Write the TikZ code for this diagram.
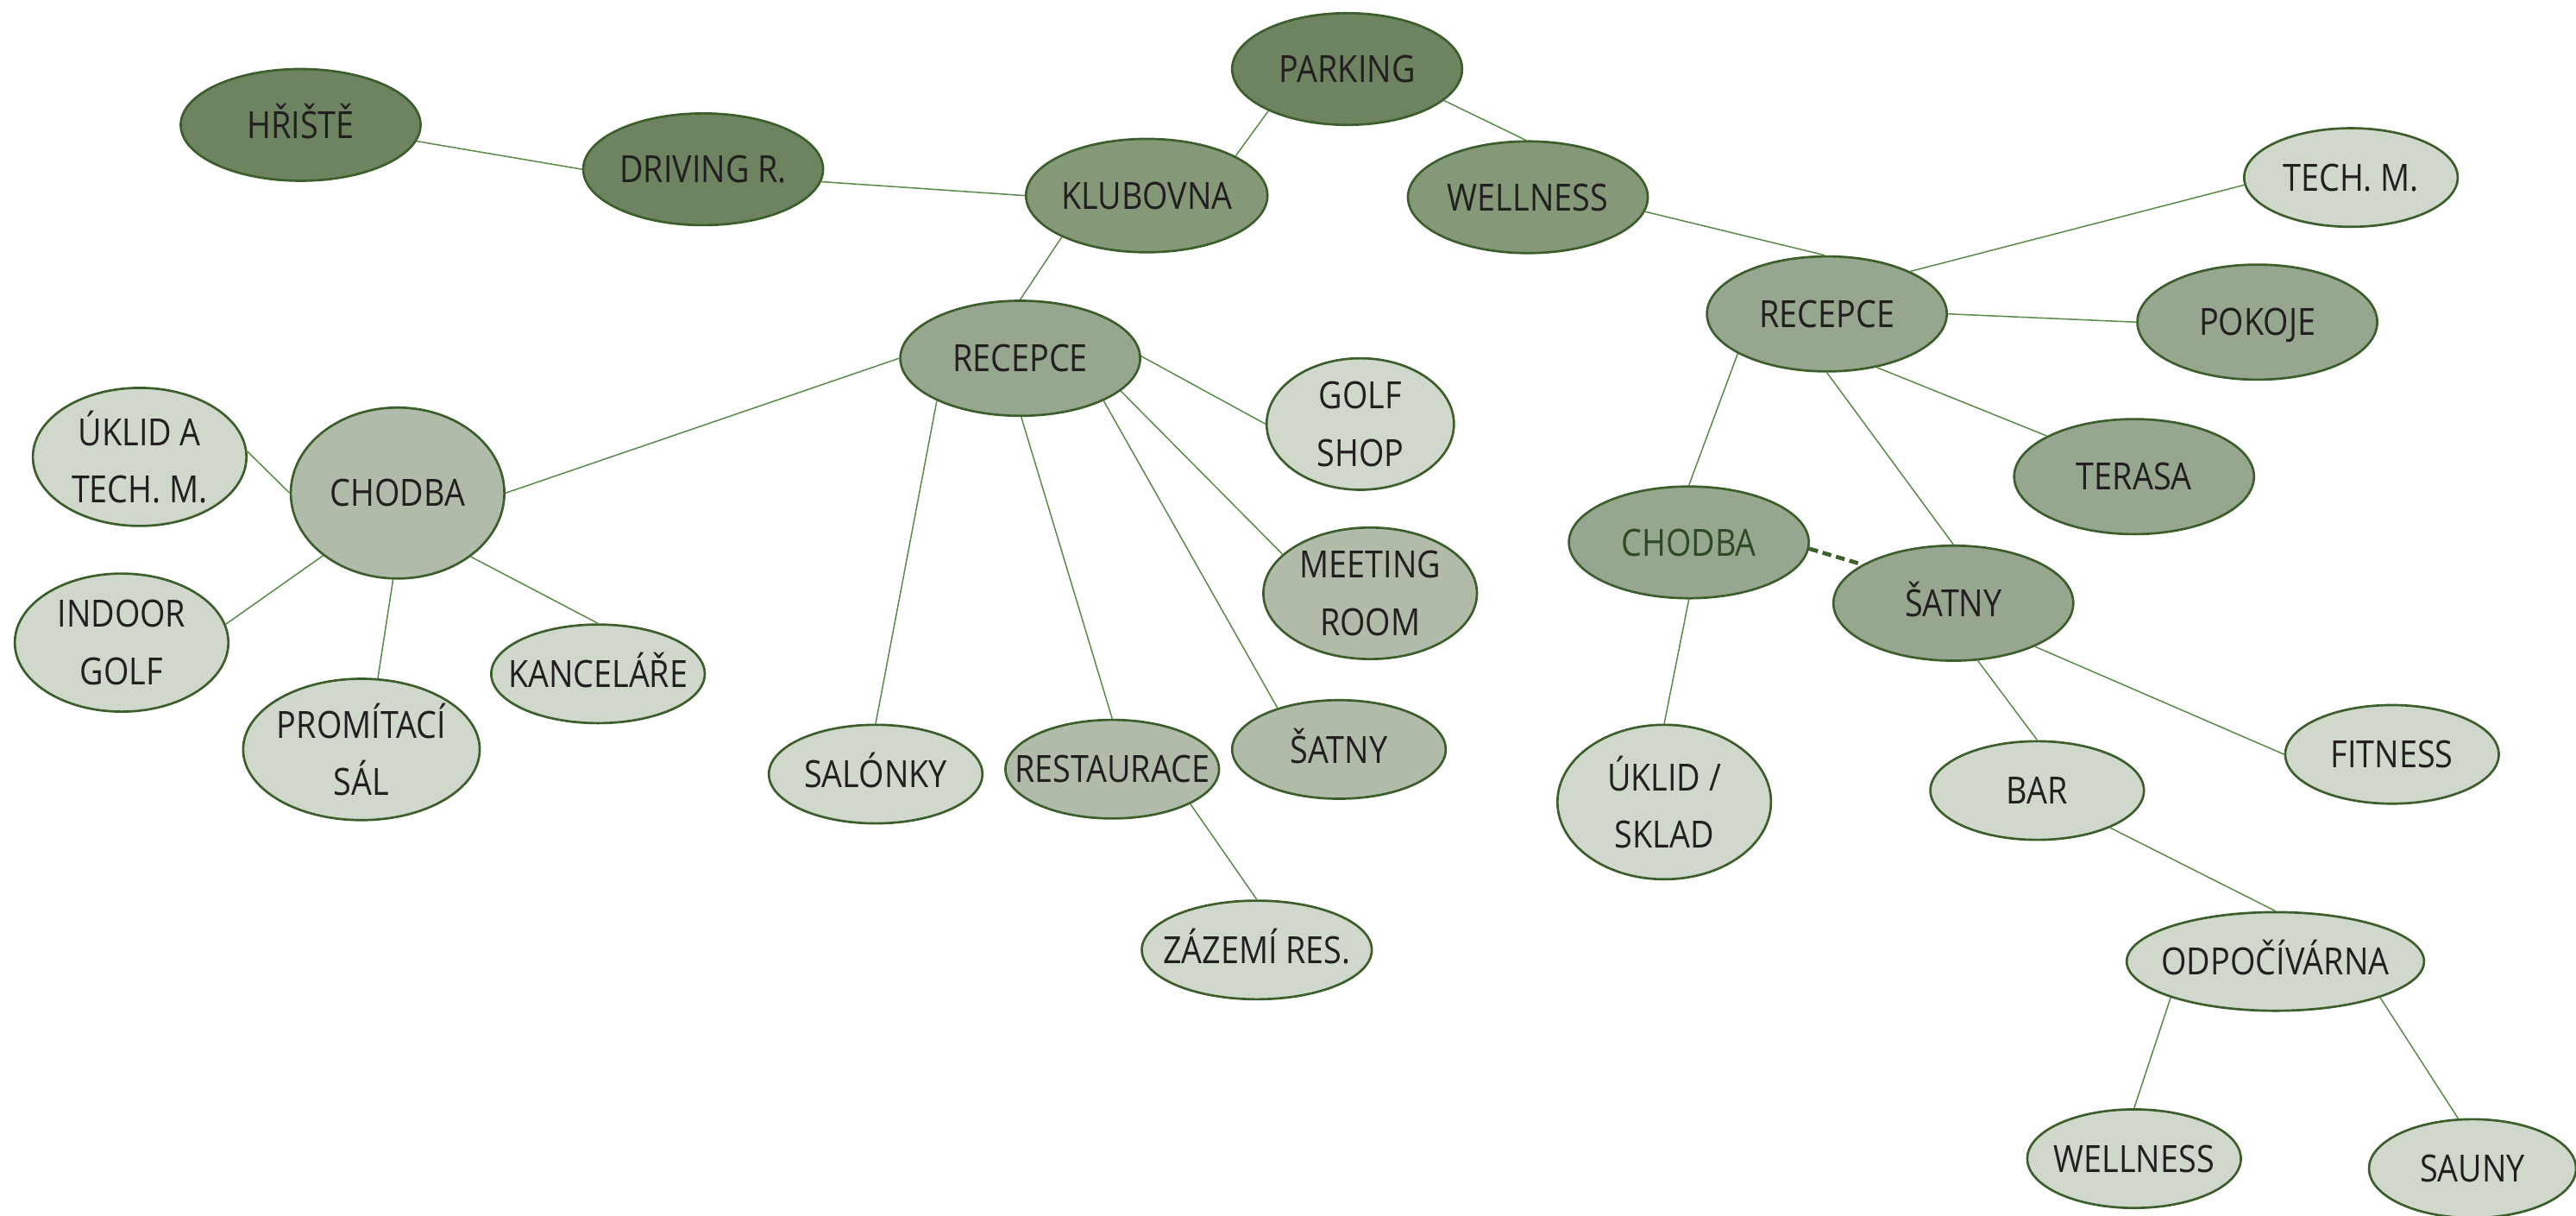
\documentclass[tikz,border=0pt]{standalone}
\usepackage{fontspec}
\setmainfont{Open Sans}[FakeStretch=0.87]
\usetikzlibrary{shapes.geometric}
\definecolor{cdark}{HTML}{6E8461}
\definecolor{cmed}{HTML}{859979}
\definecolor{crec}{HTML}{97A78F}
\definecolor{cml}{HTML}{B0BCA9}
\definecolor{clight}{HTML}{CFD8CB}
\definecolor{bordc}{HTML}{3B5E2B}
\definecolor{linec}{HTML}{5B8C49}
\definecolor{ctext}{HTML}{231F20}
\definecolor{ctextg}{HTML}{2E4A24}
\tikzset{
  bub/.style={ellipse, draw=bordc, line width=1.4pt, inner sep=0pt},
  dk/.style={bub, fill=cdark},
  md/.style={bub, fill=cmed},
  rc/.style={bub, fill=crec},
  ml/.style={bub, fill=cml},
  lt/.style={bub, fill=clight},
  sz/.style 2 args={minimum width=#1pt, minimum height=#2pt},
  txt/.style={text=ctext, font=\fontsize{22.8pt}{35pt}\selectfont, align=center, inner sep=0pt, text height=16.4pt, text depth=0pt},
  txtb/.style={text=ctext, font=\fontsize{22.8pt}{35pt}\selectfont, align=center, inner sep=0pt},
  conn/.style={draw=linec, line width=0.8pt},
  dashconn/.style={draw=bordc, line width=2.4pt, dash pattern=on 5.5pt off 3pt},
}
\begin{document}
\begin{tikzpicture}[x=1pt, y=-1pt]
\fill[white] (0,0) rectangle (1568,739.4);
\useasboundingbox (0,0) rectangle (1568,739.4);
% nodes
\node[dk, sz={146}{68}, label={[txt]center:HŘIŠTĚ}] (hriste) at (183,76) {};
\node[dk, sz={146}{68}, label={[txt]center:DRIVING R.}] (driving) at (428,103) {};
\node[dk, sz={140}{68}, label={[txt]center:PARKING}] (parking) at (820,42) {};
\node[md, sz={147}{69}, label={[txt]center:KLUBOVNA}] (klub) at (698,119) {};
\node[md, sz={146}{68}, label={[txt]center:WELLNESS}] (wellT) at (930,120) {};
\node[rc, sz={146}{70}, label={[txt]center:RECEPCE}] (recL) at (621,218) {};
\node[ml, sz={130}{104}, label={[txt]center:CHODBA}] (chodL) at (242,300) {};
\node[lt, sz={130}{84}, label={[txtb]center:ÚKLID A\\TECH. M.}] (uklidA) at (85,278) {};
\node[lt, sz={130}{84}, label={[txtb]center:INDOOR\\GOLF}] (indoor) at (74,391) {};
\node[lt, sz={144}{86}, label={[txtb]center:PROMÍTACÍ\\SÁL}] (promit) at (220,456) {};
\node[lt, sz={130}{60}, label={[txt]center:KANCELÁŘE}] (kanc) at (364,410) {};
\node[lt, sz={114}{80}, label={[txtb]center:GOLF\\SHOP}] (golf) at (828,258) {};
\node[ml, sz={130}{80}, label={[txtb]center:MEETING\\ROOM}] (meet) at (834,361) {};
\node[ml, sz={130}{60}, label={[txt]center:ŠATNY}] (satL) at (815,456) {};
\node[lt, sz={130}{60}, label={[txt]center:SALÓNKY}] (salon) at (533,471) {};
\node[ml, sz={130}{60}, label={[txt]center:RESTAURACE}] (rest) at (677,468) {};
\node[lt, sz={140}{60}, label={[txt]center:ZÁZEMÍ RES.}] (zazemi) at (765,578) {};
\node[lt, sz={130}{60}, label={[txt]center:TECH. M.}] (tech) at (1431,108) {};
\node[rc, sz={146}{70}, label={[txt]center:RECEPCE}] (recR) at (1112,191) {};
\node[rc, sz={146}{70}, label={[txt]center:POKOJE}] (pokoje) at (1374,196) {};
\node[rc, sz={146}{70}, label={[txt]center:TERASA}] (terasa) at (1299,290) {};
\node[rc, sz={146}{68}, label={[txt, text=ctextg]center:CHODBA}] (chodR) at (1028,330) {};
\node[rc, sz={146}{70}, label={[txt]center:ŠATNY}] (satR) at (1189,367) {};
\node[lt, sz={130}{94}, label={[txtb]center:ÚKLID /\\SKLAD}] (uklidS) at (1013,488) {};
\node[lt, sz={130}{60}, label={[txt]center:BAR}] (bar) at (1240,481) {};
\node[lt, sz={130}{60}, label={[txt]center:FITNESS}] (fitness) at (1456,459) {};
\node[lt, sz={181}{60}, label={[txt]center:ODPOČÍVÁRNA}] (odpoc) at (1385,585) {};
\node[lt, sz={130}{60}, label={[txt]center:WELLNESS}] (wellB) at (1299,705) {};
\node[lt, sz={126}{60}, label={[txt]center:SAUNY}] (sauny) at (1505,711) {};
% connectors
\draw[conn] (hriste.-8) -- (driving.180);
\draw[conn] (driving.-6) -- (klub.180);
\draw[conn] (klub.24) -- (parking.-152);
\draw[conn] (parking.-18) -- (wellT.92);
\draw[conn] (klub.-154) -- (recL.90);
\draw[conn] (wellT.-7) -- (recR.92);
\draw[conn] (recL.180) -- (chodL.0);
\draw[conn] (recL.1) -- (golf.180);
\draw[conn] (recL.-18) -- (meet.156);
\draw[conn] (recL.-27) -- (satL.146);
\draw[conn] (recL.-89) -- (rest.90);
\draw[conn] (recL.-153) -- (salon.90);
\draw[conn] (rest.-24) -- (zazemi.90);
\draw[conn] (chodL.180) -- (uklidA.3);
\draw[conn] (chodL.-140) -- (indoor.10);
\draw[conn] (chodL.-93) -- (promit.77);
\draw[conn] (chodL.-41) -- (kanc.90);
\draw[conn] (recR.27) -- (tech.184);
\draw[conn] (recR.0) -- (pokoje.180);
\draw[conn] (recR.-47) -- (terasa.155);
\draw[conn] (recR.-156) -- (chodR.90);
\draw[conn] (recR.-90) -- (satR.90);
\draw[dashconn] (chodR.-3) -- (satR.157);
\draw[conn] (chodR.-90) -- (uklidS.90);
\draw[conn] (satR.-67) -- (bar.90);
\draw[conn] (satR.-28) -- (fitness.180);
\draw[conn] (bar.-27) -- (odpoc.90);
\draw[conn] (odpoc.-161) -- (wellB.90);
\draw[conn] (odpoc.-19) -- (sauny.106);
\end{tikzpicture}
\end{document}
